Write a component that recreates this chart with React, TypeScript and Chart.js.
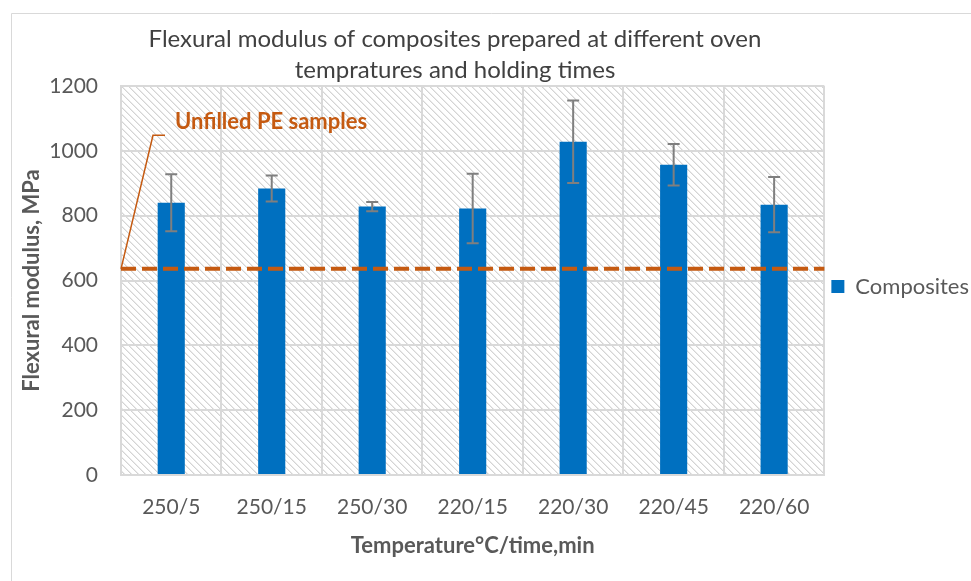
import React, { useEffect, useRef } from 'react';
import { Chart, registerables } from 'chart.js';

Chart.register(...registerables);

const categories = ['250/5', '250/15', '250/30', '220/15', '220/30', '220/45', '220/60'];
const modulus = [840, 884, 828, 822, 1028, 957, 834];
const stdDev = [88, 40, 14, 107, 127, 64, 85];
const unfilledPE = 636;
const seriesLabel = 'Composites';
const titleLines = ['Flexural modulus of composites prepared at different oven', 'tempratures and holding times'];
const annotationText = 'Unfilled PE samples';
const annotationValue = 1090;
const leaderValue = 1048;
const yAxisTitle = 'Flexural modulus, MPa';
const xAxisTitle = 'Temperature°C/time,min';

const FONT = 'Lato, "Open Sans", sans-serif';
const ORANGE = '#c55a11';
const GRID = '#d9d9d9';

function makePattern(ctx: CanvasRenderingContext2D) {
  const n = 7;
  const c = document.createElement('canvas');
  c.width = n;
  c.height = n;
  const p = c.getContext('2d')!;
  p.fillStyle = '#ffffff';
  p.fillRect(0, 0, n, n);
  for (let i = 0; i < n; i++) {
    p.fillStyle = '#d4d4d4';
    p.fillRect(i, i, 1, 1);
    p.fillStyle = '#eaeaea';
    p.fillRect((i + 1) % n, i, 1, 1);
  }
  return ctx.createPattern(c, 'repeat');
}

const decorPlugin = {
  id: 'decor',
  beforeDraw(chart: any) {
    const { ctx, chartArea: a, width, height } = chart;
    ctx.save();
    ctx.fillStyle = '#ffffff';
    ctx.fillRect(0, 0, width, height);
    // outer chart border
    ctx.strokeStyle = GRID;
    ctx.lineWidth = 1;
    ctx.beginPath();
    ctx.moveTo(11.5, height);
    ctx.lineTo(11.5, 13.5);
    ctx.lineTo(width, 13.5);
    ctx.stroke();
    // hatched plot background
    const pat = makePattern(ctx);
    if (pat) {
      ctx.fillStyle = pat;
      ctx.fillRect(a.left, a.top, a.right - a.left, a.bottom - a.top);
    }
    // title
    ctx.fillStyle = '#404040';
    ctx.font = `24px ${FONT}`;
    ctx.textAlign = 'center';
    ctx.textBaseline = 'middle';
    ctx.fillText(titleLines[0], 455, 39);
    ctx.fillText(titleLines[1], 455, 70);
    ctx.restore();
  },
  afterDatasetsDraw(chart: any) {
    const { ctx, chartArea: a } = chart;
    const x = chart.scales.x;
    const y = chart.scales.y;
    ctx.save();
    // error bars
    ctx.strokeStyle = '#7f7f7f';
    ctx.lineWidth = 2;
    modulus.forEach((v, i) => {
      const px = x.getPixelForValue(i);
      const top = y.getPixelForValue(v + stdDev[i]);
      const bot = y.getPixelForValue(v - stdDev[i]);
      ctx.beginPath();
      ctx.moveTo(px, top);
      ctx.lineTo(px, bot);
      ctx.moveTo(px - 6, top);
      ctx.lineTo(px + 6, top);
      ctx.moveTo(px - 6, bot);
      ctx.lineTo(px + 6, bot);
      ctx.stroke();
    });
    // unfilled PE reference line
    const ly = y.getPixelForValue(unfilledPE);
    ctx.strokeStyle = ORANGE;
    ctx.lineWidth = 4;
    ctx.setLineDash([15, 6]);
    ctx.beginPath();
    ctx.moveTo(a.left, ly);
    ctx.lineTo(a.right, ly);
    ctx.stroke();
    ctx.setLineDash([]);
    // leader line
    const ty = y.getPixelForValue(leaderValue);
    ctx.lineWidth = 1.5;
    ctx.beginPath();
    ctx.moveTo(a.left, ly);
    ctx.lineTo(a.left + 32, ty);
    ctx.lineTo(a.left + 44, ty);
    ctx.stroke();
    // annotation text
    ctx.fillStyle = ORANGE;
    ctx.font = `bold 22px ${FONT}`;
    ctx.textAlign = 'left';
    ctx.textBaseline = 'middle';
    ctx.fillText(annotationText, a.left + 54, y.getPixelForValue(annotationValue));
    ctx.restore();
  },
};

export default function App() {
  const ref = useRef<HTMLCanvasElement>(null);
  useEffect(() => {
    if (!ref.current) return;
    const chart = new Chart(ref.current, {
      type: 'bar',
      data: {
        labels: categories,
        datasets: [
          {
            label: seriesLabel,
            data: modulus,
            backgroundColor: '#0070c0',
            borderWidth: 0,
            barPercentage: 0.27,
            categoryPercentage: 1,
          },
        ],
      },
      options: {
        responsive: false,
        animation: false,
        devicePixelRatio: 1,
        layout: { padding: { left: 0, top: 86, right: -8, bottom: 0 } },
        plugins: {
          title: { display: false },
          tooltip: { enabled: false },
          legend: {
            display: true,
            position: 'right',
            fullSize: false,
            title: { display: true, text: ' ', padding: 0, font: { size: 10 } },
            labels: {
              boxWidth: 13,
              boxHeight: 13,
              padding: 7,
              color: '#595959',
              font: { family: FONT, size: 22 },
            },
          },
        },
        scales: {
          x: {
            grid: { color: GRID, lineWidth: 2, offset: true, drawTicks: false },
            border: { color: GRID, width: 2 },
            ticks: { color: '#595959', padding: 20, font: { family: FONT, size: 21 } },
            title: {
              display: true,
              text: xAxisTitle,
              color: '#595959',
              font: { family: FONT, size: 22, weight: 'bold' },
              padding: { top: 0, bottom: 22 },
            },
            afterFit(scale: any) {
              scale.height = 106;
            },
          },
          y: {
            min: 0,
            max: 1200,
            ticks: {
              stepSize: 200,
              color: '#595959',
              padding: 23,
              font: { family: FONT, size: 21 },
              callback: (v: any) => String(v),
            },
            grid: { color: GRID, lineWidth: 2, drawTicks: false },
            border: { color: GRID, width: 2 },
            title: {
              display: true,
              text: yAxisTitle,
              color: '#595959',
              font: { family: FONT, size: 22, weight: 'bold' },
              padding: { top: 19, bottom: 0 },
            },
            afterFit(scale: any) {
              scale.width = 121;
            },
          },
        },
      },
      plugins: [decorPlugin],
    } as any);
    return () => chart.destroy();
  }, []);
  return (
    <div style={{ position: 'fixed', left: 0, top: 0, width: 971, height: 581, background: '#fff' }}>
      <canvas ref={ref} width={971} height={581} style={{ display: 'block' }} />
    </div>
  );
}
